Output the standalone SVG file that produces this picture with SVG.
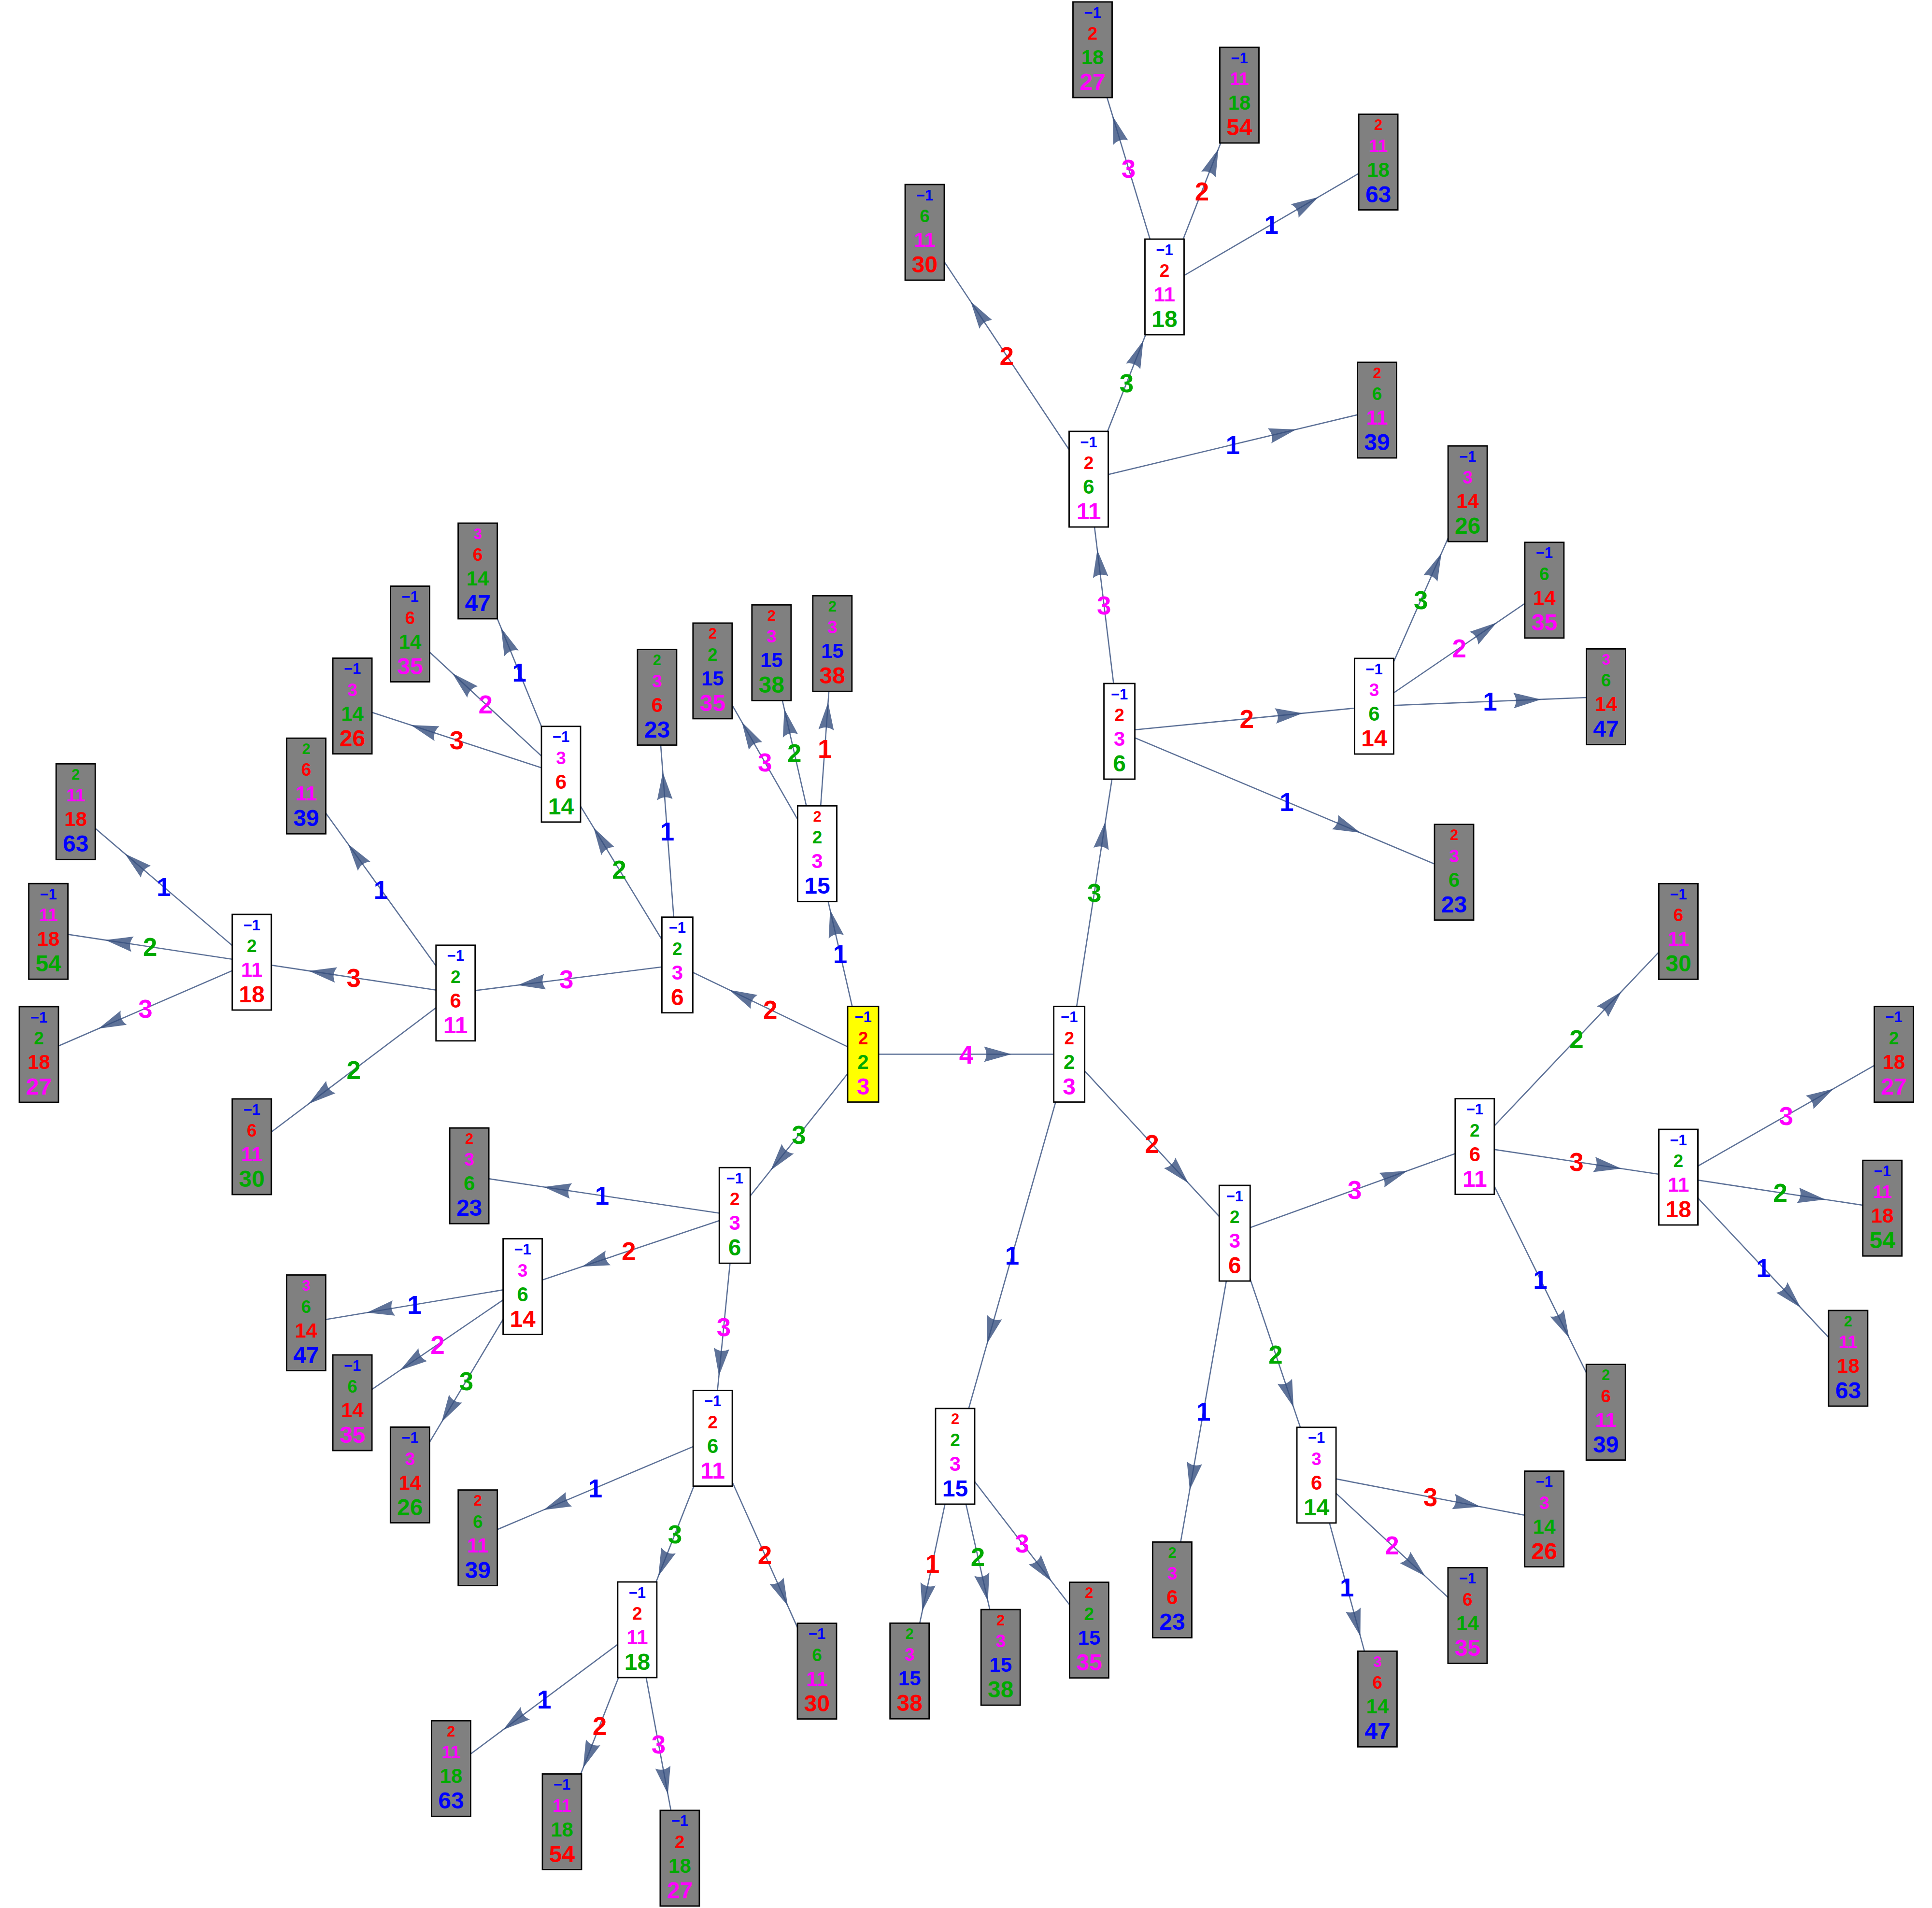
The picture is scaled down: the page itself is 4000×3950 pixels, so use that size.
<svg xmlns="http://www.w3.org/2000/svg" width="4000" height="3950" viewBox="0 0 4000 3950">
<style>
.bx{stroke:#000;stroke-width:2.8}
.w{fill:#fff}.g{fill:#808080}.y{fill:#ff0}
text{font-family:"Liberation Sans",Arial,sans-serif;font-weight:bold;text-anchor:middle}
.t1{font-size:31px}.t2{font-size:37px}.t3{font-size:42px}.t4{font-size:48px}
.lb{font-size:53px}
.cb{fill:#00f}.cr{fill:#f00}.cg{fill:#00aa00}.cm{fill:#f0f}
.e{fill:none;stroke:#364F7E;stroke-opacity:0.8;stroke-width:2.6}
</style>
<defs>
<marker id="ah" markerUnits="userSpaceOnUse" viewBox="-60 -20 64 40" markerWidth="64" markerHeight="40" refX="0" refY="0" orient="auto" overflow="visible">
<path d="M0,0 L-57,-16 Q-47,0 -57,16 Z" fill="#364F7E" fill-opacity="0.8"/>
</marker>
</defs>
<rect width="4000" height="3950" fill="#fff"/>
<g id="connectors">
<polyline class="e" marker-mid="url(#ah)" points="1787,2182.5 2094.2,2182.5 2213.7,2182.5"/>
<polyline class="e" marker-mid="url(#ah)" points="1787,2182.5 1718.6,1883.6 1692,1767.3"/>
<polyline class="e" marker-mid="url(#ah)" points="1787,2182.5 1510.1,2049.4 1402.4,1997.7"/>
<polyline class="e" marker-mid="url(#ah)" points="1787,2182.5 1595.6,2422.8 1521.2,2516.2"/>
<polyline class="e" marker-mid="url(#ah)" points="2213.7,2182.5 2288.5,1701.2 2317.6,1514"/>
<polyline class="e" marker-mid="url(#ah)" points="2213.7,2182.5 2460.4,2449.3 2556.3,2553"/>
<polyline class="e" marker-mid="url(#ah)" points="2213.7,2182.5 2043.6,2781.8 1977.5,3014.9"/>
<polyline class="e" marker-mid="url(#ah)" points="2317.6,1514 2271.8,1138.2 2254,992"/>
<polyline class="e" marker-mid="url(#ah)" points="2317.6,1514 2697.3,1476.6 2845,1462"/>
<polyline class="e" marker-mid="url(#ah)" points="2317.6,1514 2816.5,1724 3010.5,1805.7"/>
<polyline class="e" marker-mid="url(#ah)" points="2254,992 2009.6,624.1 1914.5,481"/>
<polyline class="e" marker-mid="url(#ah)" points="2254,992 2367,705.4 2411,594"/>
<polyline class="e" marker-mid="url(#ah)" points="2254,992 2683.8,889 2851,849"/>
<polyline class="e" marker-mid="url(#ah)" points="2411,594 2303.7,240.5 2262,103"/>
<polyline class="e" marker-mid="url(#ah)" points="2411,594 2522.6,308.2 2566,197"/>
<polyline class="e" marker-mid="url(#ah)" points="2411,594 2729.7,407.9 2853.6,335.5"/>
<polyline class="e" marker-mid="url(#ah)" points="2845,1462 2984.4,1145.3 3038.6,1022.2"/>
<polyline class="e" marker-mid="url(#ah)" points="2845,1462 3098.7,1289.1 3197.4,1221.8"/>
<polyline class="e" marker-mid="url(#ah)" points="2845,1462 3190.6,1447.9 3325,1442.4"/>
<polyline class="e" marker-mid="url(#ah)" points="2556.3,2553 2914.1,2423.8 3053.3,2373.6"/>
<polyline class="e" marker-mid="url(#ah)" points="2556.3,2553 2463.2,3084.6 2427,3291.4"/>
<polyline class="e" marker-mid="url(#ah)" points="2556.3,2553 2678.2,2913.6 2725.6,3053.9"/>
<polyline class="e" marker-mid="url(#ah)" points="3053.3,2373.6 3356.9,2053 3474.9,1928.3"/>
<polyline class="e" marker-mid="url(#ah)" points="3053.3,2373.6 3356.9,2419.2 3474.9,2437"/>
<polyline class="e" marker-mid="url(#ah)" points="3053.3,2373.6 3248.7,2769.6 3324.7,2923.6"/>
<polyline class="e" marker-mid="url(#ah)" points="3474.9,2437 3796.1,2253.9 3921,2182.7"/>
<polyline class="e" marker-mid="url(#ah)" points="3474.9,2437 3779,2483.2 3897.2,2501.2"/>
<polyline class="e" marker-mid="url(#ah)" points="3474.9,2437 3728,2707 3826.4,2812"/>
<polyline class="e" marker-mid="url(#ah)" points="2725.6,3053.9 3065.2,3119.2 3197.2,3144.6"/>
<polyline class="e" marker-mid="url(#ah)" points="2725.6,3053.9 2950.8,3263.1 3038.4,3344.5"/>
<polyline class="e" marker-mid="url(#ah)" points="2725.6,3053.9 2816.5,3387.5 2851.9,3517.3"/>
<polyline class="e" marker-mid="url(#ah)" points="1977.5,3014.9 1909.6,3334.9 1883.2,3459.3"/>
<polyline class="e" marker-mid="url(#ah)" points="1977.5,3014.9 2045.3,3314.6 2071.7,3431.1"/>
<polyline class="e" marker-mid="url(#ah)" points="1977.5,3014.9 2177.2,3274 2254.9,3374.7"/>
<polyline class="e" marker-mid="url(#ah)" points="1692,1767.3 1536,1494.9 1475.3,1388.9"/>
<polyline class="e" marker-mid="url(#ah)" points="1692,1767.3 1623.8,1467.8 1597.3,1351.3"/>
<polyline class="e" marker-mid="url(#ah)" points="1692,1767.3 1714.5,1454.1 1723.3,1332.3"/>
<polyline class="e" marker-mid="url(#ah)" points="1402.4,1997.7 1372.2,1598.7 1360.4,1443.5"/>
<polyline class="e" marker-mid="url(#ah)" points="1402.4,1997.7 1229,1713.4 1161.5,1602.8"/>
<polyline class="e" marker-mid="url(#ah)" points="1402.4,1997.7 1071.8,2039.5 943.2,2055.8"/>
<polyline class="e" marker-mid="url(#ah)" points="1161.5,1602.8 1037.4,1299.8 989.1,1182"/>
<polyline class="e" marker-mid="url(#ah)" points="1161.5,1602.8 936.5,1393.8 849,1312.5"/>
<polyline class="e" marker-mid="url(#ah)" points="1161.5,1602.8 850.5,1501.1 729.6,1461.6"/>
<polyline class="e" marker-mid="url(#ah)" points="943.2,2055.8 720.6,1747.2 634,1627.2"/>
<polyline class="e" marker-mid="url(#ah)" points="943.2,2055.8 639.4,2009.9 521.3,1992"/>
<polyline class="e" marker-mid="url(#ah)" points="943.2,2055.8 639.4,2284.9 521.3,2374"/>
<polyline class="e" marker-mid="url(#ah)" points="521.3,1992 258.8,1767.6 156.7,1680.3"/>
<polyline class="e" marker-mid="url(#ah)" points="521.3,1992 218,1946.1 100.1,1928.2"/>
<polyline class="e" marker-mid="url(#ah)" points="521.3,1992 203.9,2129.5 80.5,2183"/>
<polyline class="e" marker-mid="url(#ah)" points="1521.2,2516.2 1125.5,2457.2 971.6,2434.2"/>
<polyline class="e" marker-mid="url(#ah)" points="1521.2,2516.2 1205,2622.3 1082.1,2663.5"/>
<polyline class="e" marker-mid="url(#ah)" points="1521.2,2516.2 1488.4,2848.4 1475.6,2977.6"/>
<polyline class="e" marker-mid="url(#ah)" points="1082.1,2663.5 759.3,2717.5 633.8,2738.5"/>
<polyline class="e" marker-mid="url(#ah)" points="1082.1,2663.5 828.3,2836.7 729.6,2904"/>
<polyline class="e" marker-mid="url(#ah)" points="1082.1,2663.5 914.1,2944.3 848.8,3053.5"/>
<polyline class="e" marker-mid="url(#ah)" points="1475.6,2977.6 1125.4,3125.9 989.2,3183.6"/>
<polyline class="e" marker-mid="url(#ah)" points="1475.6,2977.6 1363.1,3263 1319.4,3374"/>
<polyline class="e" marker-mid="url(#ah)" points="1475.6,2977.6 1631,3324.6 1691.5,3459.6"/>
<polyline class="e" marker-mid="url(#ah)" points="1319.4,3374 1041.8,3580.9 933.9,3661.3"/>
<polyline class="e" marker-mid="url(#ah)" points="1319.4,3374 1207.2,3660.2 1163.5,3771.5"/>
<polyline class="e" marker-mid="url(#ah)" points="1319.4,3374 1382.8,3714.5 1407.4,3846.9"/>
<g id="edge-labels" class="lb">
<text class="lb cm" x="2000.4" y="2201.5">4</text>
<text class="lb cb" x="1739.5" y="1993.9">1</text>
<text class="lb cr" x="1594.7" y="2109.1">2</text>
<text class="lb cg" x="1654.1" y="2368.4">3</text>
<text class="lb cg" x="2265.7" y="1867.3">3</text>
<text class="lb cr" x="2385" y="2386.8">2</text>
<text class="lb cb" x="2095.6" y="2617.7">1</text>
<text class="lb cm" x="2285.8" y="1272">3</text>
<text class="lb cr" x="2581.3" y="1507">2</text>
<text class="lb cb" x="2664.1" y="1678.9">1</text>
<text class="lb cr" x="2084.3" y="755.5">2</text>
<text class="lb cg" x="2332.5" y="812">3</text>
<text class="lb cb" x="2552.5" y="939.5">1</text>
<text class="lb cm" x="2336.5" y="367.5">3</text>
<text class="lb cr" x="2488.5" y="414.5">2</text>
<text class="lb cb" x="2632.3" y="483.8">1</text>
<text class="lb cg" x="2941.8" y="1261.1">3</text>
<text class="lb cm" x="3021.2" y="1360.9">2</text>
<text class="lb cb" x="3085" y="1471.2">1</text>
<text class="lb cm" x="2804.8" y="2482.3">3</text>
<text class="lb cb" x="2491.7" y="2941.2">1</text>
<text class="lb cg" x="2641" y="2822.5">2</text>
<text class="lb cg" x="3264.1" y="2170">2</text>
<text class="lb cr" x="3264.1" y="2424.3">3</text>
<text class="lb cb" x="3189" y="2667.6">1</text>
<text class="lb cm" x="3698" y="2328.9">3</text>
<text class="lb cg" x="3686.1" y="2488.1">2</text>
<text class="lb cb" x="3650.7" y="2643.5">1</text>
<text class="lb cr" x="2961.4" y="3118.3">3</text>
<text class="lb cm" x="2882" y="3218.2">2</text>
<text class="lb cb" x="2788.8" y="3304.6">1</text>
<text class="lb cr" x="1930.4" y="3256.1">1</text>
<text class="lb cg" x="2024.6" y="3242">2</text>
<text class="lb cm" x="2116.2" y="3213.8">3</text>
<text class="lb cm" x="1583.7" y="1597.1">3</text>
<text class="lb cg" x="1644.7" y="1578.3">2</text>
<text class="lb cr" x="1707.7" y="1568.8">1</text>
<text class="lb cb" x="1381.4" y="1739.6">1</text>
<text class="lb cg" x="1282" y="1819.3">2</text>
<text class="lb cm" x="1172.8" y="2045.8">3</text>
<text class="lb cb" x="1075.3" y="1411.4">1</text>
<text class="lb cm" x="1005.3" y="1476.7">2</text>
<text class="lb cr" x="945.6" y="1551.2">3</text>
<text class="lb cb" x="788.6" y="1860.5">1</text>
<text class="lb cr" x="732.3" y="2042.9">3</text>
<text class="lb cg" x="732.3" y="2233.9">2</text>
<text class="lb cb" x="339" y="1855.2">1</text>
<text class="lb cg" x="310.7" y="1979.1">2</text>
<text class="lb cm" x="300.9" y="2106.5">3</text>
<text class="lb cb" x="1246.4" y="2494.2">1</text>
<text class="lb cr" x="1301.7" y="2608.9">2</text>
<text class="lb cm" x="1498.4" y="2765.9">3</text>
<text class="lb cb" x="858" y="2720">1</text>
<text class="lb cm" x="905.9" y="2802.8">2</text>
<text class="lb cg" x="965.5" y="2877.5">3</text>
<text class="lb cb" x="1232.4" y="3099.6">1</text>
<text class="lb cg" x="1397.5" y="3194.8">3</text>
<text class="lb cr" x="1583.6" y="3237.6">2</text>
<text class="lb cb" x="1126.7" y="3536.7">1</text>
<text class="lb cr" x="1241.5" y="3591.8">2</text>
<text class="lb cm" x="1363.4" y="3629.5">3</text>
</g>
</g>
<g id="nodes">
<g id="n_root" transform="translate(1787 2182.5)"><rect class="bx y" x="-32" y="-99" width="64" height="198"/><text class="t1 cb" y="-66.5">−1</text><text class="t2 cr" y="-21">2</text><text class="t3 cg" y="30">2</text><text class="t4 cm" y="83">3</text></g>
<g id="n_R" transform="translate(2213.7 2182.5)"><rect class="bx w" x="-32" y="-99" width="64" height="198"/><text class="t1 cb" y="-66.5">−1</text><text class="t2 cr" y="-21">2</text><text class="t3 cg" y="30">2</text><text class="t4 cm" y="83">3</text></g>
<g id="n_RU" transform="translate(2317.6 1514)"><rect class="bx w" x="-32" y="-99" width="64" height="198"/><text class="t1 cb" y="-66.5">−1</text><text class="t2 cr" y="-21">2</text><text class="t3 cm" y="30">3</text><text class="t4 cg" y="83">6</text></g>
<g id="n_RUU" transform="translate(2254 992)"><rect class="bx w" x="-40.5" y="-99" width="81" height="198"/><text class="t1 cb" y="-66.5">−1</text><text class="t2 cr" y="-21">2</text><text class="t3 cg" y="30">6</text><text class="t4 cm" y="83">11</text></g>
<g id="n_RUU30" transform="translate(1914.5 481)"><rect class="bx g" x="-40.5" y="-99" width="81" height="198"/><text class="t1 cb" y="-66.5">−1</text><text class="t2 cg" y="-21">6</text><text class="t3 cm" y="30">11</text><text class="t4 cr" y="83">30</text></g>
<g id="n_RUUU" transform="translate(2411 594)"><rect class="bx w" x="-40.5" y="-99" width="81" height="198"/><text class="t1 cb" y="-66.5">−1</text><text class="t2 cr" y="-21">2</text><text class="t3 cm" y="30">11</text><text class="t4 cg" y="83">18</text></g>
<g id="n_RUUU27" transform="translate(2262 103)"><rect class="bx g" x="-40.5" y="-99" width="81" height="198"/><text class="t1 cb" y="-66.5">−1</text><text class="t2 cr" y="-21">2</text><text class="t3 cg" y="30">18</text><text class="t4 cm" y="83">27</text></g>
<g id="n_RUUU54" transform="translate(2566 197)"><rect class="bx g" x="-40.5" y="-99" width="81" height="198"/><text class="t1 cb" y="-66.5">−1</text><text class="t2 cm" y="-21">11</text><text class="t3 cg" y="30">18</text><text class="t4 cr" y="83">54</text></g>
<g id="n_RUUU63" transform="translate(2853.6 335.5)"><rect class="bx g" x="-40.5" y="-99" width="81" height="198"/><text class="t1 cr" y="-66.5">2</text><text class="t2 cm" y="-21">11</text><text class="t3 cg" y="30">18</text><text class="t4 cb" y="83">63</text></g>
<g id="n_RUU39" transform="translate(2851 849)"><rect class="bx g" x="-40.5" y="-99" width="81" height="198"/><text class="t1 cr" y="-66.5">2</text><text class="t2 cg" y="-21">6</text><text class="t3 cm" y="30">11</text><text class="t4 cb" y="83">39</text></g>
<g id="n_RU14" transform="translate(2845 1462)"><rect class="bx w" x="-40.5" y="-99" width="81" height="198"/><text class="t1 cb" y="-66.5">−1</text><text class="t2 cm" y="-21">3</text><text class="t3 cg" y="30">6</text><text class="t4 cr" y="83">14</text></g>
<g id="n_RU14_26" transform="translate(3038.6 1022.2)"><rect class="bx g" x="-40.5" y="-99" width="81" height="198"/><text class="t1 cb" y="-66.5">−1</text><text class="t2 cm" y="-21">3</text><text class="t3 cr" y="30">14</text><text class="t4 cg" y="83">26</text></g>
<g id="n_RU14_35" transform="translate(3197.4 1221.8)"><rect class="bx g" x="-40.5" y="-99" width="81" height="198"/><text class="t1 cb" y="-66.5">−1</text><text class="t2 cg" y="-21">6</text><text class="t3 cr" y="30">14</text><text class="t4 cm" y="83">35</text></g>
<g id="n_RU14_47" transform="translate(3325 1442.4)"><rect class="bx g" x="-40.5" y="-99" width="81" height="198"/><text class="t1 cm" y="-66.5">3</text><text class="t2 cg" y="-21">6</text><text class="t3 cr" y="30">14</text><text class="t4 cb" y="83">47</text></g>
<g id="n_RU23" transform="translate(3010.5 1805.7)"><rect class="bx g" x="-40.5" y="-99" width="81" height="198"/><text class="t1 cr" y="-66.5">2</text><text class="t2 cm" y="-21">3</text><text class="t3 cg" y="30">6</text><text class="t4 cb" y="83">23</text></g>
<g id="n_RDR" transform="translate(2556.3 2553)"><rect class="bx w" x="-32" y="-99" width="64" height="198"/><text class="t1 cb" y="-66.5">−1</text><text class="t2 cg" y="-21">2</text><text class="t3 cm" y="30">3</text><text class="t4 cr" y="83">6</text></g>
<g id="n_RDR11" transform="translate(3053.3 2373.6)"><rect class="bx w" x="-40.5" y="-99" width="81" height="198"/><text class="t1 cb" y="-66.5">−1</text><text class="t2 cg" y="-21">2</text><text class="t3 cr" y="30">6</text><text class="t4 cm" y="83">11</text></g>
<g id="n_RDR11_30" transform="translate(3474.9 1928.3)"><rect class="bx g" x="-40.5" y="-99" width="81" height="198"/><text class="t1 cb" y="-66.5">−1</text><text class="t2 cr" y="-21">6</text><text class="t3 cm" y="30">11</text><text class="t4 cg" y="83">30</text></g>
<g id="n_RDR11_18" transform="translate(3474.9 2437)"><rect class="bx w" x="-40.5" y="-99" width="81" height="198"/><text class="t1 cb" y="-66.5">−1</text><text class="t2 cg" y="-21">2</text><text class="t3 cm" y="30">11</text><text class="t4 cr" y="83">18</text></g>
<g id="n_RDR11_39" transform="translate(3324.7 2923.6)"><rect class="bx g" x="-40.5" y="-99" width="81" height="198"/><text class="t1 cg" y="-66.5">2</text><text class="t2 cr" y="-21">6</text><text class="t3 cm" y="30">11</text><text class="t4 cb" y="83">39</text></g>
<g id="n_R18_27" transform="translate(3921 2182.7)"><rect class="bx g" x="-40.5" y="-99" width="81" height="198"/><text class="t1 cb" y="-66.5">−1</text><text class="t2 cg" y="-21">2</text><text class="t3 cr" y="30">18</text><text class="t4 cm" y="83">27</text></g>
<g id="n_R18_54" transform="translate(3897.2 2501.2)"><rect class="bx g" x="-40.5" y="-99" width="81" height="198"/><text class="t1 cb" y="-66.5">−1</text><text class="t2 cm" y="-21">11</text><text class="t3 cr" y="30">18</text><text class="t4 cg" y="83">54</text></g>
<g id="n_R18_63" transform="translate(3826.4 2812)"><rect class="bx g" x="-40.5" y="-99" width="81" height="198"/><text class="t1 cg" y="-66.5">2</text><text class="t2 cm" y="-21">11</text><text class="t3 cr" y="30">18</text><text class="t4 cb" y="83">63</text></g>
<g id="n_RDR23" transform="translate(2427 3291.4)"><rect class="bx g" x="-40.5" y="-99" width="81" height="198"/><text class="t1 cg" y="-66.5">2</text><text class="t2 cm" y="-21">3</text><text class="t3 cr" y="30">6</text><text class="t4 cb" y="83">23</text></g>
<g id="n_RDR14" transform="translate(2725.6 3053.9)"><rect class="bx w" x="-40.5" y="-99" width="81" height="198"/><text class="t1 cb" y="-66.5">−1</text><text class="t2 cm" y="-21">3</text><text class="t3 cr" y="30">6</text><text class="t4 cg" y="83">14</text></g>
<g id="n_RDR14_26" transform="translate(3197.2 3144.6)"><rect class="bx g" x="-40.5" y="-99" width="81" height="198"/><text class="t1 cb" y="-66.5">−1</text><text class="t2 cm" y="-21">3</text><text class="t3 cg" y="30">14</text><text class="t4 cr" y="83">26</text></g>
<g id="n_RDR14_35" transform="translate(3038.4 3344.5)"><rect class="bx g" x="-40.5" y="-99" width="81" height="198"/><text class="t1 cb" y="-66.5">−1</text><text class="t2 cr" y="-21">6</text><text class="t3 cg" y="30">14</text><text class="t4 cm" y="83">35</text></g>
<g id="n_RDR14_47" transform="translate(2851.9 3517.3)"><rect class="bx g" x="-40.5" y="-99" width="81" height="198"/><text class="t1 cm" y="-66.5">3</text><text class="t2 cr" y="-21">6</text><text class="t3 cg" y="30">14</text><text class="t4 cb" y="83">47</text></g>
<g id="n_RD15" transform="translate(1977.5 3014.9)"><rect class="bx w" x="-40.5" y="-99" width="81" height="198"/><text class="t1 cr" y="-66.5">2</text><text class="t2 cg" y="-21">2</text><text class="t3 cm" y="30">3</text><text class="t4 cb" y="83">15</text></g>
<g id="n_RD15_38a" transform="translate(1883.2 3459.3)"><rect class="bx g" x="-40.5" y="-99" width="81" height="198"/><text class="t1 cg" y="-66.5">2</text><text class="t2 cm" y="-21">3</text><text class="t3 cb" y="30">15</text><text class="t4 cr" y="83">38</text></g>
<g id="n_RD15_38b" transform="translate(2071.7 3431.1)"><rect class="bx g" x="-40.5" y="-99" width="81" height="198"/><text class="t1 cr" y="-66.5">2</text><text class="t2 cm" y="-21">3</text><text class="t3 cb" y="30">15</text><text class="t4 cg" y="83">38</text></g>
<g id="n_RD15_35" transform="translate(2254.9 3374.7)"><rect class="bx g" x="-40.5" y="-99" width="81" height="198"/><text class="t1 cr" y="-66.5">2</text><text class="t2 cg" y="-21">2</text><text class="t3 cb" y="30">15</text><text class="t4 cm" y="83">35</text></g>
<g id="n_L15" transform="translate(1692 1767.3)"><rect class="bx w" x="-40.5" y="-99" width="81" height="198"/><text class="t1 cr" y="-66.5">2</text><text class="t2 cg" y="-21">2</text><text class="t3 cm" y="30">3</text><text class="t4 cb" y="83">15</text></g>
<g id="n_L15_35" transform="translate(1475.3 1388.9)"><rect class="bx g" x="-40.5" y="-99" width="81" height="198"/><text class="t1 cr" y="-66.5">2</text><text class="t2 cg" y="-21">2</text><text class="t3 cb" y="30">15</text><text class="t4 cm" y="83">35</text></g>
<g id="n_L15_38g" transform="translate(1597.3 1351.3)"><rect class="bx g" x="-40.5" y="-99" width="81" height="198"/><text class="t1 cr" y="-66.5">2</text><text class="t2 cm" y="-21">3</text><text class="t3 cb" y="30">15</text><text class="t4 cg" y="83">38</text></g>
<g id="n_L15_38r" transform="translate(1723.3 1332.3)"><rect class="bx g" x="-40.5" y="-99" width="81" height="198"/><text class="t1 cg" y="-66.5">2</text><text class="t2 cm" y="-21">3</text><text class="t3 cb" y="30">15</text><text class="t4 cr" y="83">38</text></g>
<g id="n_L6" transform="translate(1402.4 1997.7)"><rect class="bx w" x="-32" y="-99" width="64" height="198"/><text class="t1 cb" y="-66.5">−1</text><text class="t2 cg" y="-21">2</text><text class="t3 cm" y="30">3</text><text class="t4 cr" y="83">6</text></g>
<g id="n_L6_23" transform="translate(1360.4 1443.5)"><rect class="bx g" x="-40.5" y="-99" width="81" height="198"/><text class="t1 cg" y="-66.5">2</text><text class="t2 cm" y="-21">3</text><text class="t3 cr" y="30">6</text><text class="t4 cb" y="83">23</text></g>
<g id="n_L6_14" transform="translate(1161.5 1602.8)"><rect class="bx w" x="-40.5" y="-99" width="81" height="198"/><text class="t1 cb" y="-66.5">−1</text><text class="t2 cm" y="-21">3</text><text class="t3 cr" y="30">6</text><text class="t4 cg" y="83">14</text></g>
<g id="n_L14_47" transform="translate(989.1 1182)"><rect class="bx g" x="-40.5" y="-99" width="81" height="198"/><text class="t1 cm" y="-66.5">3</text><text class="t2 cr" y="-21">6</text><text class="t3 cg" y="30">14</text><text class="t4 cb" y="83">47</text></g>
<g id="n_L14_35" transform="translate(849 1312.5)"><rect class="bx g" x="-40.5" y="-99" width="81" height="198"/><text class="t1 cb" y="-66.5">−1</text><text class="t2 cr" y="-21">6</text><text class="t3 cg" y="30">14</text><text class="t4 cm" y="83">35</text></g>
<g id="n_L14_26" transform="translate(729.6 1461.6)"><rect class="bx g" x="-40.5" y="-99" width="81" height="198"/><text class="t1 cb" y="-66.5">−1</text><text class="t2 cm" y="-21">3</text><text class="t3 cg" y="30">14</text><text class="t4 cr" y="83">26</text></g>
<g id="n_L6_11" transform="translate(943.2 2055.8)"><rect class="bx w" x="-40.5" y="-99" width="81" height="198"/><text class="t1 cb" y="-66.5">−1</text><text class="t2 cg" y="-21">2</text><text class="t3 cr" y="30">6</text><text class="t4 cm" y="83">11</text></g>
<g id="n_L11_39" transform="translate(634 1627.2)"><rect class="bx g" x="-40.5" y="-99" width="81" height="198"/><text class="t1 cg" y="-66.5">2</text><text class="t2 cr" y="-21">6</text><text class="t3 cm" y="30">11</text><text class="t4 cb" y="83">39</text></g>
<g id="n_L11_18" transform="translate(521.3 1992)"><rect class="bx w" x="-40.5" y="-99" width="81" height="198"/><text class="t1 cb" y="-66.5">−1</text><text class="t2 cg" y="-21">2</text><text class="t3 cm" y="30">11</text><text class="t4 cr" y="83">18</text></g>
<g id="n_L11_30" transform="translate(521.3 2374)"><rect class="bx g" x="-40.5" y="-99" width="81" height="198"/><text class="t1 cb" y="-66.5">−1</text><text class="t2 cr" y="-21">6</text><text class="t3 cm" y="30">11</text><text class="t4 cg" y="83">30</text></g>
<g id="n_L18_63" transform="translate(156.7 1680.3)"><rect class="bx g" x="-40.5" y="-99" width="81" height="198"/><text class="t1 cg" y="-66.5">2</text><text class="t2 cm" y="-21">11</text><text class="t3 cr" y="30">18</text><text class="t4 cb" y="83">63</text></g>
<g id="n_L18_54" transform="translate(100.1 1928.2)"><rect class="bx g" x="-40.5" y="-99" width="81" height="198"/><text class="t1 cb" y="-66.5">−1</text><text class="t2 cm" y="-21">11</text><text class="t3 cr" y="30">18</text><text class="t4 cg" y="83">54</text></g>
<g id="n_L18_27" transform="translate(80.5 2183)"><rect class="bx g" x="-40.5" y="-99" width="81" height="198"/><text class="t1 cb" y="-66.5">−1</text><text class="t2 cg" y="-21">2</text><text class="t3 cr" y="30">18</text><text class="t4 cm" y="83">27</text></g>
<g id="n_LD" transform="translate(1521.2 2516.2)"><rect class="bx w" x="-32" y="-99" width="64" height="198"/><text class="t1 cb" y="-66.5">−1</text><text class="t2 cr" y="-21">2</text><text class="t3 cm" y="30">3</text><text class="t4 cg" y="83">6</text></g>
<g id="n_LD23" transform="translate(971.6 2434.2)"><rect class="bx g" x="-40.5" y="-99" width="81" height="198"/><text class="t1 cr" y="-66.5">2</text><text class="t2 cm" y="-21">3</text><text class="t3 cg" y="30">6</text><text class="t4 cb" y="83">23</text></g>
<g id="n_LD14" transform="translate(1082.1 2663.5)"><rect class="bx w" x="-40.5" y="-99" width="81" height="198"/><text class="t1 cb" y="-66.5">−1</text><text class="t2 cm" y="-21">3</text><text class="t3 cg" y="30">6</text><text class="t4 cr" y="83">14</text></g>
<g id="n_LD14_47" transform="translate(633.8 2738.5)"><rect class="bx g" x="-40.5" y="-99" width="81" height="198"/><text class="t1 cm" y="-66.5">3</text><text class="t2 cg" y="-21">6</text><text class="t3 cr" y="30">14</text><text class="t4 cb" y="83">47</text></g>
<g id="n_LD14_35" transform="translate(729.6 2904)"><rect class="bx g" x="-40.5" y="-99" width="81" height="198"/><text class="t1 cb" y="-66.5">−1</text><text class="t2 cg" y="-21">6</text><text class="t3 cr" y="30">14</text><text class="t4 cm" y="83">35</text></g>
<g id="n_LD14_26" transform="translate(848.8 3053.5)"><rect class="bx g" x="-40.5" y="-99" width="81" height="198"/><text class="t1 cb" y="-66.5">−1</text><text class="t2 cm" y="-21">3</text><text class="t3 cr" y="30">14</text><text class="t4 cg" y="83">26</text></g>
<g id="n_LD11" transform="translate(1475.6 2977.6)"><rect class="bx w" x="-40.5" y="-99" width="81" height="198"/><text class="t1 cb" y="-66.5">−1</text><text class="t2 cr" y="-21">2</text><text class="t3 cg" y="30">6</text><text class="t4 cm" y="83">11</text></g>
<g id="n_LD11_39" transform="translate(989.2 3183.6)"><rect class="bx g" x="-40.5" y="-99" width="81" height="198"/><text class="t1 cr" y="-66.5">2</text><text class="t2 cg" y="-21">6</text><text class="t3 cm" y="30">11</text><text class="t4 cb" y="83">39</text></g>
<g id="n_LD11_18" transform="translate(1319.4 3374)"><rect class="bx w" x="-40.5" y="-99" width="81" height="198"/><text class="t1 cb" y="-66.5">−1</text><text class="t2 cr" y="-21">2</text><text class="t3 cm" y="30">11</text><text class="t4 cg" y="83">18</text></g>
<g id="n_LD11_30" transform="translate(1691.5 3459.6)"><rect class="bx g" x="-40.5" y="-99" width="81" height="198"/><text class="t1 cb" y="-66.5">−1</text><text class="t2 cg" y="-21">6</text><text class="t3 cm" y="30">11</text><text class="t4 cr" y="83">30</text></g>
<g id="n_LD18_63" transform="translate(933.9 3661.3)"><rect class="bx g" x="-40.5" y="-99" width="81" height="198"/><text class="t1 cr" y="-66.5">2</text><text class="t2 cm" y="-21">11</text><text class="t3 cg" y="30">18</text><text class="t4 cb" y="83">63</text></g>
<g id="n_LD18_54" transform="translate(1163.5 3771.5)"><rect class="bx g" x="-40.5" y="-99" width="81" height="198"/><text class="t1 cb" y="-66.5">−1</text><text class="t2 cm" y="-21">11</text><text class="t3 cg" y="30">18</text><text class="t4 cr" y="83">54</text></g>
<g id="n_LD18_27" transform="translate(1407.4 3846.9)"><rect class="bx g" x="-40.5" y="-99" width="81" height="198"/><text class="t1 cb" y="-66.5">−1</text><text class="t2 cr" y="-21">2</text><text class="t3 cg" y="30">18</text><text class="t4 cm" y="83">27</text></g>
</g>
</svg>
